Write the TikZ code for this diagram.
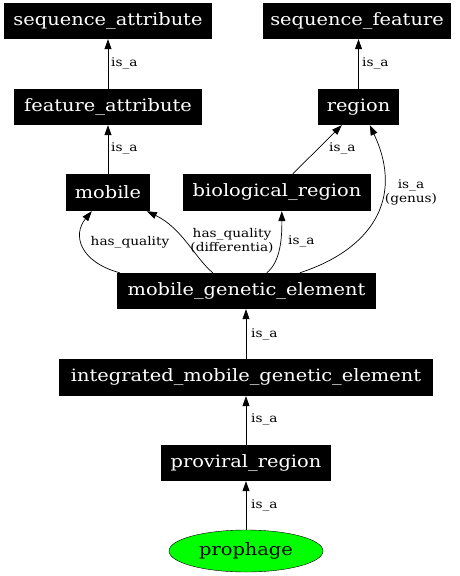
\documentclass[tikz,border=0pt]{standalone}
\usepackage{fontspec}
\setmainfont{DejaVu Serif}[FakeStretch=1.14]
\usetikzlibrary{arrows.meta,calc,shapes.geometric}
\begin{document}
\begin{tikzpicture}[x=1pt,y=-1pt,
  box/.style={fill=black,text=white,inner sep=0pt,font=\fontsize{17}{20}\selectfont},
  lbl/.style={inner sep=0pt,font=\fontsize{12}{14}\selectfont,align=center},
  edge/.style={draw=black,line width=0.7pt,-{Triangle[length=10pt,width=7pt]}}]
\useasboundingbox (0,0) rectangle (459,576);
\node[box,minimum width=208,minimum height=36] (seqattr) at (108,21) {sequence\_attribute};
\node[box,minimum width=188,minimum height=36] (seqfeat) at (357,21) {sequence\_feature};
\node[box,minimum width=188,minimum height=36] (featattr) at (108,107) {feature\_attribute};
\node[box,minimum width=81,minimum height=36] (region) at (358.5,107) {region};
\node[box,minimum width=84,minimum height=37] (mobile) at (108,192.5) {mobile};
\node[box,minimum width=188,minimum height=37] (bioreg) at (277,192.5) {biological\_region};
\node[box,minimum width=259,minimum height=36] (mge) at (246.5,291) {mobile\_genetic\_element};
\node[box,minimum width=374,minimum height=37] (img) at (246,377.5) {integrated\_mobile\_genetic\_element};
\node[box,minimum width=170,minimum height=36] (prov) at (246,463) {proviral\_region};
\node[ellipse,draw=black,fill=green,inner sep=0pt,minimum width=154,minimum height=42,font=\fontsize{17}{20}\selectfont] (pro) at (246,551) {prophage};

\draw[edge] (featattr.north) -- (featattr.north |- seqattr.south);
\draw[edge] (region.north) -- (region.north |- seqfeat.south);
\draw[edge] (mobile.north) -- (mobile.north |- featattr.south);
\draw[edge] ($(bioreg.north west)+(110,0)$) -- ($(region.south west)+(24,0)$);
\draw[edge] ($(mge.north west)+(183,0)$) .. controls (370,250) and (405,200) .. ($(region.south west)+(52,0)$);
\draw[edge] ($(mge.north west)+(3,0)$) .. controls (80,262) and (72,235) .. ($(mobile.south west)+(26,0)$);
\draw[edge] ($(mge.north west)+(96,0)$) .. controls (195,258) and (182,228) .. ($(mobile.south west)+(81,0)$);
\draw[edge] ($(mge.north west)+(150,0)$) .. controls (280,262) and (282,240) .. ($(bioreg.south west)+(99,0)$);
\draw[edge] (img.north) -- (img.north |- mge.south);
\draw[edge] (prov.north) -- (prov.north |- img.south);
\draw[edge] (pro.north) -- (pro.north |- prov.south);

\node[lbl,anchor=west] (l1) at (111,63) {is\_a};
\node[lbl,anchor=west] (l2) at (362,63) {is\_a};
\node[lbl,anchor=west] (l3) at (111,148) {is\_a};
\node[lbl,anchor=west] (l4) at (329,148) {is\_a};
\node[lbl] (l5) at (411,192) {is\_a\\(genus)};
\node[lbl] (l6) at (130,242) {has\_quality};
\node[lbl] (l7) at (232,241) {has\_quality\\(differentia)};
\node[lbl,anchor=west] (l8) at (288,241) {is\_a};
\node[lbl,anchor=west] (l9) at (251,334) {is\_a};
\node[lbl,anchor=west] (l10) at (251,419) {is\_a};
\node[lbl,anchor=west] (l11) at (251,505) {is\_a};
\end{tikzpicture}
\end{document}
